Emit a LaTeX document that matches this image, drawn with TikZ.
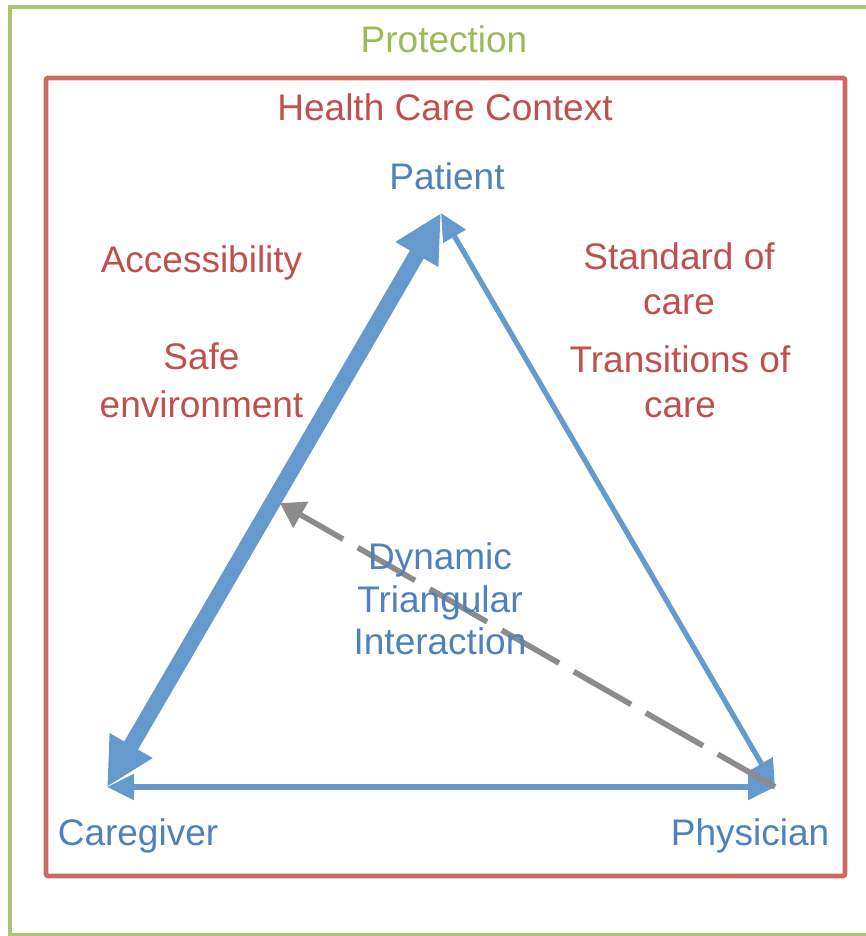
\documentclass[tikz,border=0pt]{standalone}
\usepackage{fontspec}
\setmainfont{Liberation Sans}
\usepackage{tikz}
\usetikzlibrary{arrows.meta}
\definecolor{protectcolor}{RGB}{155, 187, 89}
\definecolor{protectline}{RGB}{172, 198, 112}
\definecolor{contextcolor}{RGB}{192, 80, 77}
\definecolor{contextline}{RGB}{208, 104, 98}
\definecolor{rolecolor}{RGB}{79, 129, 189}
\definecolor{linkcolor}{RGB}{102, 153, 204}
\definecolor{dashcolor}{RGB}{140, 140, 140}

\begin{document}
\begin{tikzpicture}[x=0.5pt, y=-0.5pt,
    lbl/.style={font=\fontsize{18.5}{22.5}\selectfont, align=center, inner sep=0pt},
    link/.style={line width=2.6pt, draw=linkcolor,
        {Triangle[length=13.5pt, width=12.5pt]}-{Triangle[length=13.5pt, width=12.5pt]}},
    strong link/.style={line width=8pt, draw=linkcolor,
        {Triangle[length=24pt, width=23pt]}-{Triangle[length=24pt, width=23pt]}},
    dash link/.style={line width=2.8pt, draw=dashcolor, dash pattern=on 33pt off 8.5pt,
        -{Triangle[length=12pt, width=14.5pt]}}]
    \clip (0, 0) rectangle (866, 936);

    % Protection frame
    \draw[protectline, line width=2pt] (10, 7) rectangle (900, 935);
    \node[lbl, anchor=base, text=protectcolor] (protectlbl) at (444, 53) {Protection};

    % Health care context frame
    \draw[contextline, line width=2.3pt, rounded corners=1pt] (46, 78) rectangle (845, 876);
    \node[lbl, anchor=base, text=contextcolor] (contextlbl) at (445, 121) {Health Care Context};

    % Corners of the triangle
    \coordinate (patient) at (441, 213);
    \coordinate (caregiver) at (107, 787);
    \coordinate (physician) at (775, 787);
    \coordinate (meet) at (280, 503);

    % Links
    \draw[strong link] (caregiver) -- (patient);
    \draw[link] (caregiver) -- (physician);
    \draw[link] (physician) -- (patient);
    \draw[dash link] (physician) -- (meet);

    % Roles
    \node[lbl, anchor=base, text=rolecolor] (patientlbl) at (447, 190) {Patient};
    \node[lbl, anchor=base, text=rolecolor] (caregiverlbl) at (138, 845) {Caregiver};
    \node[lbl, anchor=base, text=rolecolor] (physicianlbl) at (750, 845) {Physician};

    % Context factors
    \node[lbl, anchor=base, text=contextcolor] (accesslbl) at (201.5, 272) {Accessibility};
    \node[lbl, text=contextcolor, font=\fontsize{18.5}{24}\selectfont] (safelbl) at (201.5, 380.5) {Safe\\environment};
    \node[lbl, text=contextcolor] (standardlbl) at (679, 279) {Standard of\\care};
    \node[lbl, text=contextcolor] (transitlbl) at (680, 382) {Transitions of\\care};

    % Interaction
    \node[lbl, text=rolecolor, font=\fontsize{18.5}{21.25}\selectfont] (dynamiclbl) at (440, 599) {Dynamic\\Triangular\\Interaction};
\end{tikzpicture}
\end{document}
